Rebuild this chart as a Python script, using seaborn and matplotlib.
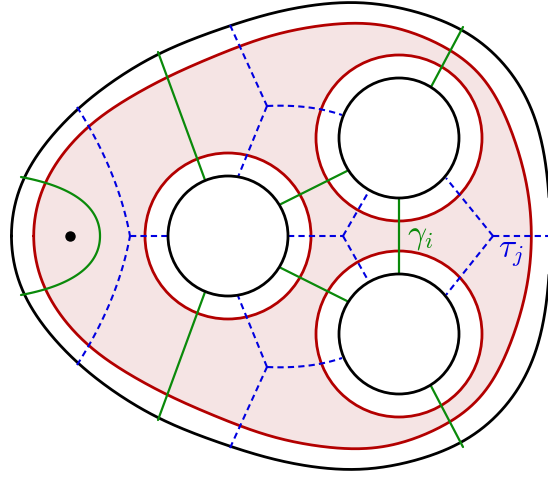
import numpy as np
import matplotlib
matplotlib.use('Agg')
import matplotlib.pyplot as plt
import seaborn as sns

# Contorno exterior (mitad superior, de izquierda a derecha; la inferior es simétrica)
outer_x = [10, 21, 77, 158, 274, 367, 463, 513, 537, 547, 551]
outer_y = [236, 177, 107, 52, 11, 0, 27, 73, 120, 173, 236]

# Curva roja (mitad superior)
red_x = [32, 43, 88, 167, 274, 357, 400, 467, 480, 507, 523, 530, 531]
red_y = [236, 182, 124, 76, 33, 22, 27, 60, 70, 120, 167, 200, 236]

eje_y = 236

# Agujeros
hole_x = [228, 399, 399]
hole_y = [236, 138, 334]
hole_r = 60
ring_r = 83

# Segmentos verdes
green_segs = [
    [(158, 52), (205, 180)],
    [(158, 420), (205, 292)],
    [(281, 204), (347, 171)],
    [(281, 268), (347, 301)],
    [(431, 87), (463, 27)],
    [(431, 386), (463, 447)],
    [(399, 199), (399, 273)],
]
# curva verde (bezier) alrededor del punto
green_arc = [(21, 177), (75, 187), (100, 208), (100, 236), (100, 264), (75, 285), (21, 295)]

# Segmentos azules: (inicio, control, fin)
blue_segs = [
    [(77, 107), (118, 171), (130, 236)],
    [(77, 365), (118, 301), (130, 236)],
    [(130, 236), None, (168, 236)],
    [(230, 25), None, (267, 106)],
    [(267, 106), None, (238, 177)],
    [(267, 106), (310, 104), (342, 115)],
    [(230, 448), None, (267, 367)],
    [(267, 367), None, (238, 296)],
    [(267, 367), (310, 369), (342, 358)],
    [(288, 236), None, (343, 236)],
    [(343, 236), None, (369, 191)],
    [(343, 236), None, (369, 282)],
    [(493, 236), None, (446, 178)],
    [(493, 236), None, (446, 295)],
    [(493, 236), None, (552, 236)],
]

punto = (70, 236)


def cerrar(xs, ys):
    # mitad superior + espejo de la inferior
    xs = list(xs)
    ys = list(ys)
    bx = xs[-2:0:-1]
    by = [2 * eje_y - y for y in ys[-2:0:-1]]
    return np.array(xs + bx), np.array(ys + by)


def suave(px, py, n=800, k0=8):
    # poligono cerrado -> remuestreo por longitud -> filtro gaussiano compensado
    P = np.column_stack([px, py]).astype(float)
    P = np.vstack([P, P[:1]])
    seg = np.linalg.norm(np.diff(P, axis=0), axis=1)
    s = np.concatenate([[0], np.cumsum(seg)])
    u = np.linspace(0, s[-1], n, endpoint=False)
    z = np.interp(u, s, P[:, 0]) + 1j * np.interp(u, s, P[:, 1])
    F = np.fft.fft(z)
    k = np.fft.fftfreq(n, 1.0 / n)
    g = np.exp(-(k / k0) ** 2)
    F = F * (1 - (1 - g) ** 3)
    z = np.fft.ifft(F)
    z = np.append(z, z[0])
    return z.real, z.imag


def bezier(pts, n=60):
    pts = np.array(pts, dtype=float)
    res = []
    for k in range(0, len(pts) - 1, 3):
        p0, p1, p2, p3 = pts[k:k + 4]
        t = np.linspace(0, 1, n)[:, None]
        c = (1 - t) ** 3 * p0 + 3 * (1 - t) ** 2 * t * p1 + 3 * (1 - t) * t ** 2 * p2 + t ** 3 * p3
        res.append(c)
    res = np.vstack(res)
    return res[:, 0], res[:, 1]


sns.set_theme(style='white')
plt.rcParams['mathtext.fontset'] = 'cm'

fig = plt.figure(figsize=(5.48, 4.8), dpi=100)
ax = fig.add_axes([0, 0, 1, 1])
ax.set_xlim(0, 548)
ax.set_ylim(480, 0)
ax.set_aspect('equal')
ax.axis('off')

negro = '#000000'
rojo = '#b30000'
rosa = '#f5e4e4'
verde = '#0a8a0a'
azul = '#0000e0'

ox, oy = suave(*cerrar(outer_x, outer_y))
rx, ry = suave(*cerrar(red_x, red_y))

ax.fill(rx, ry, color=rosa, zorder=1, lw=0)
sns.lineplot(x=rx, y=ry, sort=False, estimator=None, color=rojo, lw=2.0, ax=ax, zorder=3)
sns.lineplot(x=ox, y=oy, sort=False, estimator=None, color=negro, lw=2.0, ax=ax, zorder=3)

for cx, cy in zip(hole_x, hole_y):
    ax.add_patch(plt.Circle((cx, cy), ring_r, facecolor='white', edgecolor=rojo, lw=2.0, zorder=2))
    ax.add_patch(plt.Circle((cx, cy), hole_r, facecolor='white', edgecolor=negro, lw=2.0, zorder=5))

for a, b in green_segs:
    ax.plot([a[0], b[0]], [a[1], b[1]], color=verde, lw=1.6, zorder=4)
gx, gy = bezier(green_arc)
ax.plot(gx, gy, color=verde, lw=1.6, zorder=4)

for a, c, b in blue_segs:
    if c is None:
        xs, ys = [a[0], b[0]], [a[1], b[1]]
    else:
        t = np.linspace(0, 1, 50)
        xs = (1 - t) ** 2 * a[0] + 2 * (1 - t) * t * c[0] + t ** 2 * b[0]
        ys = (1 - t) ** 2 * a[1] + 2 * (1 - t) * t * c[1] + t ** 2 * b[1]
    ax.plot(xs, ys, color=azul, lw=1.5, dashes=(3, 2), zorder=4)

ax.plot(punto[0], punto[1], 'o', color='black', markersize=6.5, zorder=6)

ax.text(420, 236, r'$\gamma_i$', color=verde, fontsize=24, ha='center', va='center', zorder=6)
ax.text(511, 252, r'$\tau_j$', color=azul, fontsize=24, ha='center', va='center', zorder=6)

fig.savefig('out.png', dpi=100)
